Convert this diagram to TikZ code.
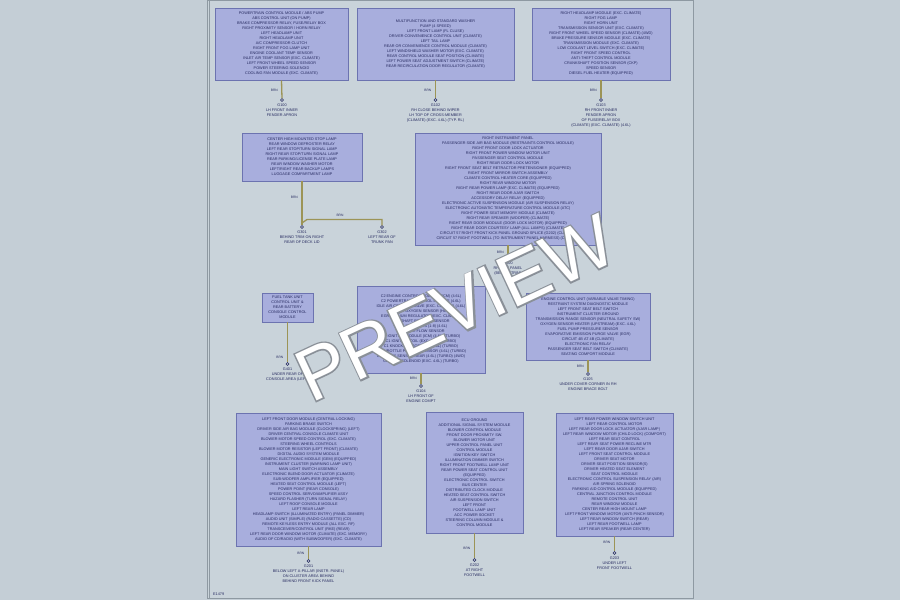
\documentclass[tikz,border=0pt]{standalone}
\usepackage{fontspec}
\setmainfont{Liberation Sans}
\newfontfamily\wmoutline[FakeBold=4]{Liberation Sans}
\definecolor{outbg}{HTML}{C4CED6}
\definecolor{pagebg}{HTML}{C9D3DA}
\definecolor{pageline}{HTML}{8E99A2}
\definecolor{boxfill}{HTML}{A8AEDD}
\definecolor{boxline}{HTML}{6C73B0}
\definecolor{txt}{HTML}{262A60}
\definecolor{wirec}{HTML}{9C9456}
\definecolor{wmline}{HTML}{8A9098}
\tikzset{
  compbox/.style={draw=boxline, fill=boxfill, line width=0.6pt, align=center, inner sep=0pt,
    font=\fontsize{3.8}{5}\selectfont, text=txt},
  wire/.style={draw=wirec, line width=1.3pt},
  gnd/.style={circle, draw=txt, line width=0.4pt, minimum size=3pt, inner sep=0pt, fill=pagebg},
  gndtext/.style={align=center, inner sep=0pt, anchor=north, font=\fontsize{3.8}{5}\selectfont, text=txt},
  wlabel/.style={inner sep=0pt, anchor=east, font=\fontsize{3.3}{4}\selectfont, text=txt},
  wmark/.style={rotate=25, inner sep=0pt}
}
\begin{document}
\begin{tikzpicture}[x=1pt,y=-1pt]
\useasboundingbox (0,0) rectangle (900,600);
\fill[outbg] (0,0) rectangle (900,600);
\draw[pageline, fill=pagebg, line width=0.8pt] (207.5,0.5) rectangle (693,598.5);
\draw[pageline, line width=0.4pt] (209.5,0.5) -- (209.5,598.5);
\node[inner sep=0pt, anchor=west, font=\fontsize{3.8}{5}\selectfont, text=txt] (pgno) at (213,594) {E1479};

% ---------- boxes ----------
\node[compbox, minimum width=133pt, minimum height=72pt] (A) at (281.5,44) {POWERTRAIN CONTROL MODULE / ABS PUMP\\ABS CONTROL UNIT (ON PUMP)\\BRAKE COMPRESSOR RELAY, FUSE/RELAY BOX\\RIGHT PROXIMITY SENSOR / HORN RELAY\\LEFT HEADLAMP UNIT\\RIGHT HEADLAMP UNIT\\A/C COMPRESSOR CLUTCH\\RIGHT FRONT FOG LAMP UNIT\\ENGINE COOLANT TEMP SENSOR\\INLET AIR TEMP SENSOR (EXC. CLIMATE)\\LEFT FRONT WHEEL SPEED SENSOR\\POWER STEERING SOLENOID\\COOLING FAN MODULE (EXC. CLIMATE)};

\node[compbox, minimum width=157pt, minimum height=72pt] (B) at (435.5,44) {MULTIFUNCTION AND STANDARD WASHER\\PUMP (4 SPEED)\\LEFT FRONT LAMP (FL CLUSE)\\DRIVER CONVENIENCE CONTROL UNIT (CLIMATE)\\LEFT TAIL LAMP\\REAR OR CONVENIENCE CONTROL MODULE (CLIMATE)\\LEFT WINDSHIELD WASHER MOTOR (EXC. CLIMATE)\\REAR CONTROL MODULE SEAT POSITION (CLIMATE)\\LEFT POWER SEAT ADJUSTMENT SWITCH (CLIMATE)\\REAR RECIRCULATION DOOR REGULATOR (CLIMATE)};

\node[compbox, minimum width=138pt, minimum height=72pt] (C) at (601,44) {RIGHT HEADLAMP MODULE (EXC. CLIMATE)\\RIGHT FOG LAMP\\RIGHT HORN UNIT\\TRANSMISSION SENSOR UNIT (EXC. CLIMATE)\\RIGHT FRONT WHEEL SPEED SENSOR (CLIMATE) (4WD)\\BRAKE PRESSURE SENSOR MODULE (EXC. CLIMATE)\\TRANSMISSION MODULE (EXC. CLIMATE)\\LOW COOLANT LEVEL SWITCH (EXC. CLIMATE)\\RIGHT FRONT SPEED CONTROL\\ANTI-THEFT CONTROL MODULE\\CRANKSHAFT POSITION SENSOR (CKP)\\SPEED SENSOR\\DIESEL FUEL HEATER (EQUIPPED)};

\node[compbox, minimum width=120pt, minimum height=48pt] (D) at (302,157) {CENTER HIGH MOUNTED STOP LAMP\\REAR WINDOW DEFROSTER RELAY\\LEFT REAR STOP/TURN SIGNAL LAMP\\RIGHT REAR STOP/TURN SIGNAL LAMP\\REAR PARKING/LICENSE PLATE LAMP\\REAR WINDOW WASHER MOTOR\\LEFT/RIGHT REAR BACKUP LAMPS\\LUGGAGE COMPARTMENT LAMP};

\node[compbox, minimum width=186pt, minimum height=112pt] (E) at (508,189) {RIGHT INSTRUMENT PANEL\\PASSENGER SIDE AIR BAG MODULE (RESTRAINTS CONTROL MODULE)\\RIGHT FRONT DOOR LOCK ACTUATOR\\RIGHT FRONT POWER WINDOW MOTOR UNIT\\PASSENGER SEAT CONTROL MODULE\\RIGHT REAR DOOR LOCK MOTOR\\RIGHT FRONT SEAT BELT RETRACTOR PRETENSIONER (EQUIPPED)\\RIGHT FRONT MIRROR SWITCH ASSEMBLY\\CLIMATE CONTROL HEATER CORE (EQUIPPED)\\RIGHT REAR WINDOW MOTOR\\RIGHT REAR POWER LAMP (EXC. CLIMATE) (EQUIPPED)\\RIGHT REAR DOOR AJAR SWITCH\\ACCESSORY DELAY RELAY (EQUIPPED)\\ELECTRONIC ACTIVE SUSPENSION MODULE (AIR SUSPENSION RELAY)\\ELECTRONIC AUTOMATIC TEMPERATURE CONTROL MODULE (ATC)\\RIGHT POWER SEAT MEMORY MODULE (CLIMATE)\\RIGHT REAR SPEAKER (WOOFER) (CLIMATE)\\RIGHT REAR DOOR MODULE (DOOR LOCK MOTOR) (EQUIPPED)\\RIGHT REAR DOOR COURTESY LAMP (ALL LAMPS) (CLIMATE)\\CIRCUIT 57 RIGHT FRONT KICK PANEL GROUND SPLICE (G202) (CLIMATE)\\CIRCUIT 57 RIGHT FOOTWELL (TO INSTRUMENT PANEL HARNESS) (CLIMATE)};

\node[compbox, minimum width=51pt, minimum height=29pt] (F) at (287.5,307.5) {FUEL TANK UNIT\\CONTROL UNIT \&\\REAR BATTERY\\CONSOLE CONTROL\\MODULE};

\node[compbox, minimum width=128pt, minimum height=87pt] (G) at (421,329.5) {C2 ENGINE CONTROL MODULE (ECM) (4.6L)\\C2 POWERTRAIN CONTROL MODULE (4.6L)\\IDLE AIR CONTROL VALVE (EXC. CLIMATE) (4.6L)\\HEATED OXYGEN SENSOR (HO2S)\\EGR VACUUM REGULATOR (EXC. CLIMATE)\\CAMSHAFT POSITION SENSOR\\FUEL INJECTORS (1-8) (4.6L)\\MASS AIR FLOW SENSOR\\C1 IGNITION MODULE (ICM) (4.6L) (TURBO)\\C1 IGNITION COIL (EXC. 4.6L) (TURBO)\\C1 KNOCK SENSOR (EXC. 4.6L) (TURBO)\\C1 THROTTLE POSITION SENSOR (4.6L) (TURBO)\\C2 KNOCK SENSOR REAR (4.6L) (TURBO) (4WD)\\C2 SHIFT SOLENOID (EXC. 4.6L) (TURBO)};

\node[compbox, minimum width=124pt, minimum height=67pt] (H) at (588,326.5) {ENGINE CONTROL UNIT (VARIABLE VALVE TIMING)\\RESTRAINT SYSTEM DIAGNOSTIC MODULE\\LEFT FRONT SEAT BELT SWITCH\\INSTRUMENT CLUSTER GROUND\\TRANSMISSION RANGE SENSOR (NEUTRAL SAFETY SW)\\OXYGEN SENSOR HEATER (UPSTREAM) (EXC. 4.6L)\\FUEL PUMP PRESSURE SENSOR\\EVAPORATIVE EMISSION PURGE VALVE (EGR)\\CIRCUIT 4B AT 4B (CLIMATE)\\ELECTRONIC FAN RELAY\\PASSENGER SEAT BELT SWITCH (CLIMATE)\\SEATING COMFORT MODULE};

\node[compbox, minimum width=145pt, minimum height=133pt] (I) at (308.5,479.5) {LEFT FRONT DOOR MODULE (CENTRAL LOCKING)\\PARKING BRAKE SWITCH\\DRIVER SIDE AIR BAG MODULE (CLOCKSPRING) (LEFT)\\DRIVER CENTRAL CONSOLE CLIMATE UNIT\\BLOWER MOTOR SPEED CONTROL (EXC. CLIMATE)\\STEERING WHEEL CONTROLS\\BLOWER MOTOR RESISTOR (LEFT FRONT) (CLIMATE)\\DIGITAL AUDIO SYSTEM MODULE\\GENERIC ELECTRONIC MODULE (GEM) (EQUIPPED)\\INSTRUMENT CLUSTER (WARNING LAMP UNIT)\\MAIN LIGHT SWITCH ASSEMBLY\\ELECTRONIC BLEND DOOR ACTUATOR (CLIMATE)\\SUB-WOOFER AMPLIFIER (EQUIPPED)\\HEATED SEAT CONTROL MODULE (LEFT)\\POWER POINT (REAR CONSOLE)\\SPEED CONTROL SERVO/AMPLIFIER ASSY\\HAZARD FLASHER (TURN SIGNAL RELAY)\\LEFT ROOF CONSOLE MODULE\\LEFT REAR LAMP\\HEADLAMP SWITCH (ILLUMINATED ENTRY) (PANEL DIMMER)\\AUDIO UNIT (SIMPLE) (RADIO CASSETTE) (CD)\\REMOTE KEYLESS ENTRY MODULE (ALL EXC. RF)\\TRANSCEIVER/CONTROL UNIT (RKE) (REAR)\\LEFT REAR DOOR WINDOW MOTOR (CLIMATE) (EXC. MEMORY)\\AUDIO OF CD/RADIO (WITH SUBWOOFER) (EXC. CLIMATE)};

\node[compbox, minimum width=97pt, minimum height=121pt] (J) at (474.5,472.5) {ECU GROUND\\ADDITIONAL SIGNAL SYSTEM MODULE\\BLOWER CONTROL MODULE\\FRONT DOOR PROXIMITY SW.\\BLOWER MOTOR UNIT\\UPPER CONTROL PANEL UNIT\\CONTROL MODULE\\IGNITION KEY SWITCH\\ILLUMINATION DIMMER SWITCH\\RIGHT FRONT FOOTWELL LAMP UNIT\\REAR POWER SEAT CONTROL UNIT\\(EQUIPPED)\\ELECTRONIC CONTROL SWITCH\\BUS CENTER\\DISTRIBUTED CLOCK MODULE\\HEATED SEAT CONTROL SWITCH\\AIR SUSPENSION SWITCH\\LEFT FRONT\\FOOTWELL LAMP UNIT\\ACC POWER SOCKET\\STEERING COLUMN MODULE \&\\CONTROL MODULE};

\node[compbox, minimum width=117pt, minimum height=123pt] (K) at (614.5,474.5) {LEFT REAR POWER WINDOW SWITCH UNIT\\LEFT REAR CONTROL MOTOR\\LEFT REAR DOOR LOCK ACTUATOR (AJAR LAMP)\\LEFT REAR WINDOW MOTOR (CHILD LOCK) (COMFORT)\\LEFT REAR SEAT CONTROL\\LEFT REAR SEAT POWER RECLINE MTR\\LEFT REAR DOOR AJAR SWITCH\\LEFT FRONT SEAT CONTROL MODULE\\DRIVER SEAT MOTOR\\DRIVER SEAT POSITION SENSOR(S)\\DRIVER HEATED SEAT ELEMENT\\SEAT CONTROL MODULE\\ELECTRONIC CONTROL SUSPENSION RELAY (AIR)\\AIR SPRING SOLENOID\\PARKING AID CONTROL MODULE (EQUIPPED)\\CENTRAL JUNCTION CONTROL MODULE\\REMOTE CONTROL UNIT\\REAR WINDOW MODULE\\CENTER REAR HIGH MOUNT LAMP\\LEFT FRONT WINDOW MOTOR (ANTI-PINCH SENSOR)\\LEFT REAR WINDOW SWITCH (REAR)\\LEFT REAR FOOTWELL LAMP\\LEFT REAR SPEAKER (REAR CENTER)};

% ---------- ground points ----------
\node[gnd] (gA) at (282,100) {};
\node[gnd] (gB) at (435.5,100) {};
\node[gnd] (gC) at (601,100) {};
\node[gnd] (gD1) at (302,227) {};
\node[gnd] (gD2) at (382,227) {};
\node[gnd] (gE) at (508,258) {};
\node[gnd] (gF) at (287.5,364) {};
\node[gnd] (gG) at (421,386) {};
\node[gnd] (gH) at (588,374) {};
\node[gnd] (gI) at (308.5,561) {};
\node[gnd] (gJ) at (474.5,560) {};
\node[gnd] (gK) at (614.5,553) {};
\coordinate (jD) at (302,223);

% ---------- wires ----------
\draw[wire] (A.south) -- (gA.north);
\draw[wire] (B.south) -- (gB.north);
\draw[wire] (C.south) -- (gC.north);
\draw[wire] (D.south) -- (gD1.north);
\draw[wire] (jD) -- ++(5,-3.5) -| (gD2.north);
\draw[wire] (E.south) -- (gE.north);
\draw[wire] (F.south) -- (gF.north);
\draw[wire] (G.south) -- (gG.north);
\draw[wire] (H.south) -- (gH.north);
\draw[wire] (I.south) -- (gI.north);
\draw[wire] (J.south) -- (gJ.north);
\draw[wire] (K.south) -- (gK.north);

% ---------- wire labels ----------
\node[wlabel] (lA) at (278,90) {BRN};
\node[wlabel] (lB) at (431.5,90) {BRN};
\node[wlabel] (lC) at (597,90) {BRN};
\node[wlabel] (lD1) at (298,197) {BRN};
\node[wlabel, anchor=south] (lD2) at (340,217) {BRN};
\node[wlabel] (lE) at (504,252) {BRN};
\node[wlabel] (lF) at (283.5,357) {BRN};
\node[wlabel] (lG) at (417,378) {BRN};
\node[wlabel] (lH) at (584,366) {BRN};
\node[wlabel] (lI) at (304.5,553) {BRN};
\node[wlabel] (lJ) at (470.5,548) {BRN};
\node[wlabel] (lK) at (610.5,542) {BRN};

% ---------- ground labels ----------
\node[gndtext] (tA) at ([yshift=-2pt]gA.south) {G100\\LH FRONT INNER\\FENDER APRON};
\node[gndtext] (tB) at ([yshift=-2pt]gB.south) {G102\\RH CLOSE BEHIND WIPER\\LH TOP OF CROSS-MEMBER\\(CLIMATE) (EXC. 4.6L) (TYP. RL)};
\node[gndtext] (tC) at ([yshift=-2pt]gC.south) {G103\\RH FRONT INNER\\FENDER APRON\\OF FUSE/RELAY BOX\\(CLIMATE) (EXC. CLIMATE) (4.6L)};
\node[gndtext] (tD1) at ([yshift=-2pt]gD1.south) {G301\\BEHIND TRIM ON RIGHT\\REAR OF DECK LID};
\node[gndtext] (tD2) at ([yshift=-2pt]gD2.south) {G302\\LEFT REAR OF\\TRUNK PAN};
\node[gndtext] (tE) at ([yshift=-2pt]gE.south) {G200\\RH KICK PANEL\\(BEHIND TRIM)};
\node[gndtext] (tF) at ([yshift=-2pt]gF.south) {G401\\UNDER REAR OF\\CONSOLE AREA (LEFT)};
\node[gndtext] (tG) at ([yshift=-2pt]gG.south) {G104\\LH FRONT OF\\ENGINE COMPT};
\node[gndtext] (tH) at ([yshift=-2pt]gH.south) {G105\\UNDER COVER CORNER IN RH\\ENGINE BRACE BOLT};
\node[gndtext] (tI) at ([yshift=-2pt]gI.south) {G201\\BELOW LEFT A-PILLAR (INSTR. PANEL)\\ON CLUSTER AREA BEHIND\\BEHIND FRONT KICK PANEL};
\node[gndtext] (tJ) at ([yshift=-2pt]gJ.south) {G202\\AT RIGHT\\FOOTWELL};
\node[gndtext] (tK) at ([yshift=-2pt]gK.south) {G203\\UNDER LEFT\\FRONT FOOTWELL};

% ---------- watermark ----------
\node[wmark, text=wmline, font=\wmoutline\fontsize{74}{74}\selectfont] (wmo) at (455,308) {PREVIEW};
\node[wmark, text=white, font=\fontsize{74}{74}\selectfont] (wm) at (455,308) {PREVIEW};
\end{tikzpicture}
\end{document}
